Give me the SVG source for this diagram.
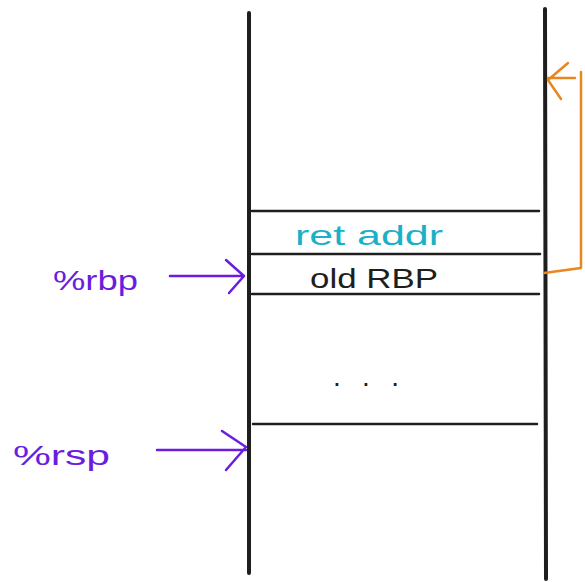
<svg xmlns="http://www.w3.org/2000/svg" width="585" height="582" viewBox="0 0 585 582">
<style>
.wall{stroke:#1e1e1e;stroke-width:4;stroke-linecap:round;fill:none}
.row{stroke:#1e1e1e;stroke-width:2.5;stroke-linecap:round;fill:none}
.purple{stroke:#6a1de0;stroke-width:2.5;stroke-linecap:round;stroke-linejoin:round;fill:none}
.orange{stroke:#e8871e;stroke-width:2.5;stroke-linecap:round;stroke-linejoin:round;fill:none}
.t{font-family:"Liberation Sans",Arial,sans-serif;font-size:28px}
</style>
<rect width="585" height="582" fill="#ffffff"/>
<g id="stack">
<line class="wall" x1="249" y1="13" x2="249" y2="573"/>
<line class="wall" x1="545" y1="9" x2="546" y2="579"/>
</g>
<g id="ret-addr">
<line class="row" x1="252" y1="211" x2="539" y2="211"/>
<text class="t" x="295" y="245" fill="#1ab0c8" textLength="148" lengthAdjust="spacingAndGlyphs">ret addr</text>
</g>
<g id="old-rbp">
<line class="row" x1="252" y1="254" x2="540" y2="254"/>
<line class="row" x1="252" y1="294" x2="539" y2="294"/>
<text class="t" x="310" y="288" fill="#1e1e1e" textLength="128" lengthAdjust="spacingAndGlyphs">old RBP</text>
</g>
<g id="ellipsis">
<text class="t" x="333" y="386" fill="#1e1e1e" textLength="66" lengthAdjust="spacing">...</text>
</g>
<g id="rsp-row">
<line class="row" x1="253" y1="424" x2="537" y2="424"/>
</g>
<g id="label-rbp">
<text class="t" x="53" y="290" fill="#6a1de0" font-size="30" textLength="85" lengthAdjust="spacingAndGlyphs">%rbp</text>
</g>
<g id="label-rsp">
<text class="t" x="13" y="465" fill="#6a1de0" font-size="30" textLength="97" lengthAdjust="spacingAndGlyphs">%rsp</text>
</g>
<g id="connectors">
<path class="purple" d="M170 276 L244 276 M226 260 L244 276 L229 293"/>
<path class="purple" d="M157 450 L246 450 M222 431 L246 447 L226 470"/>
<path class="orange" d="M575 78 L548 78 M568 63 L548 80 L561 99"/>
<path class="orange" d="M581 72 L581 268 L544 273"/>
</g>
</svg>
